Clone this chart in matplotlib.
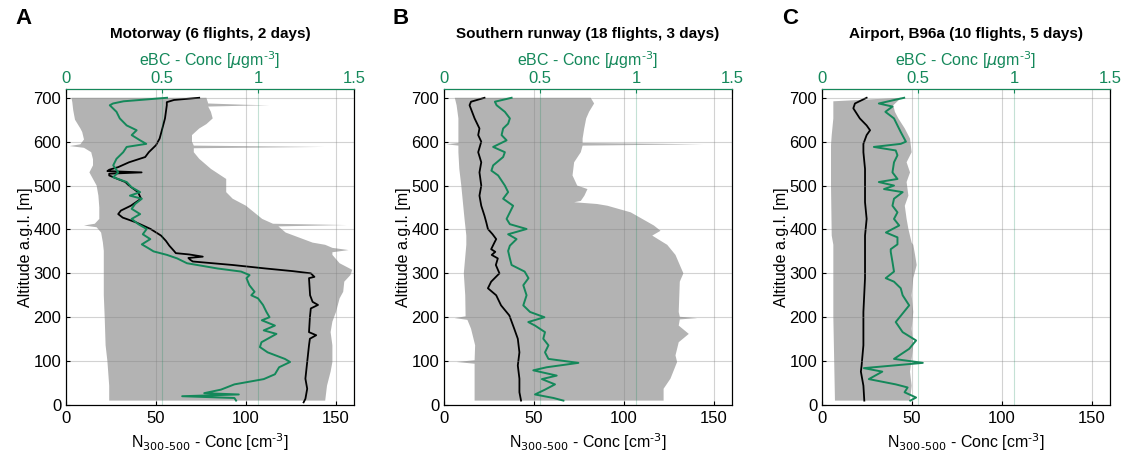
"""
Vertical profiles of N300-500 and eBC over three sites
"""
import numpy as np
import matplotlib.pyplot as plt

plt.rcParams['font.family'] = ['Liberation Sans', 'DejaVu Sans']

verde = '#14885a'
cinza = '#b3b3b3'

titulos = ['Motorway (6 flights, 2 days)', 'Southern runway (18 flights, 3 days)',
           'Airport, B96a (10 flights, 5 days)']
letras = ['A', 'B', 'C']

# --- Painel A ---
a_esq_alt = [700, 690, 672, 650, 630, 622, 605, 594, 590, 586, 576, 560, 546, 530, 515, 500, 477, 450,
             424, 413, 409, 405, 393, 370, 351, 300, 250, 200, 136, 100, 44, 10]
a_esq_n = [3, 3.5, 4, 5, 8, 9, 10, 8, 2, 10, 14, 15, 15, 13, 15, 17, 18, 18.5,
           18.5, 16, 10, 17, 19.5, 20.5, 21, 21, 21, 21.5, 22, 23, 24, 24]
a_dir_alt = [700, 687, 684, 683, 682, 680, 668, 653, 640, 630, 615, 600, 591, 588, 585, 576, 561, 538,
             515, 485, 470, 454, 424, 413, 410, 407, 393, 370, 365, 358, 353, 348, 342, 323, 308, 296,
             281, 258, 243, 212, 190, 166, 136, 98, 76, 44, 10]
a_dir_n = [78, 79, 100, 113, 100, 79, 80.5, 81.5, 78, 74, 70, 70, 71, 143.5, 71, 71, 74, 80.5,
           89, 89, 92.6, 100, 109, 115, 156, 118, 122, 137, 144, 148, 157, 148, 148, 152, 159, 158,
           154.6, 154, 152, 150, 148, 147, 148, 148, 147, 145, 144]
a_n_alt = [700, 695, 690, 683, 653, 622, 607, 592, 576, 565, 553, 542, 536, 533, 530, 527, 523, 515,
           508, 500, 485, 470, 454, 443, 435, 427, 416, 401, 386, 374, 363, 351, 346, 343, 338, 335,
           331, 327, 319, 311, 305, 300, 292, 289, 250, 235, 228, 220, 200, 166, 159, 151, 136, 98,
           60, 37, 14, 6]
a_n = [74, 60, 56, 56, 55, 53, 52, 50, 46, 44, 35, 29, 24, 23, 42, 24, 24, 28.7,
       33, 35, 40, 41.7, 36, 30.5, 29, 31.5, 39, 47, 52.8, 55.5, 57.4, 60, 61, 68.5, 76, 68,
       69, 70.4, 92.6, 111, 126, 136, 138, 135, 135.6, 137, 140, 136, 135.5, 135, 139, 135.5, 135, 134,
       133, 134, 133, 132]
a_bc_alt = [700, 692, 687, 683, 668, 653, 637, 626, 615, 603, 595, 588, 576, 561, 546, 530, 519, 508,
            496, 485, 477, 470, 458, 447, 435, 424, 412, 401, 389, 378, 366, 357, 350, 342, 334, 323,
            311, 304, 296, 289, 273, 258, 250, 243, 228, 212, 200, 193, 181, 170, 162, 143, 132, 120,
            105, 98, 86, 70, 59, 47, 35, 27, 24, 20, 16, 10]
a_bc = [0.526, 0.3, 0.245, 0.228, 0.263, 0.28, 0.316, 0.368, 0.342, 0.386, 0.418, 0.316, 0.298, 0.263,
        0.246, 0.272, 0.246, 0.316, 0.342, 0.386, 0.333, 0.395, 0.36, 0.342, 0.386, 0.342, 0.377, 0.42,
        0.4, 0.439, 0.395, 0.43, 0.456, 0.526, 0.579, 0.63, 0.79, 0.912, 0.956, 0.94, 0.955, 0.982,
        0.965, 1.0, 1.026, 1.044, 1.06, 1.02, 1.088, 1.03, 1.096, 1.018, 1.01, 1.05, 1.14, 1.167,
        1.11, 1.088, 1.03, 0.877, 0.807, 0.72, 0.9, 0.605, 0.877, 0.886]

# --- Painel B ---
b_esq_alt = [700, 683, 653, 607, 597, 594, 591, 576, 538, 500, 462, 424, 386, 365, 300, 250, 202, 198,
             194, 174, 136, 102, 98, 94, 76, 10]
b_esq_n = [6, 7, 8, 8, 8, 1.3, 8, 8, 8.5, 9.6, 10.5, 11.4, 12.4, 12.4, 11, 11.8, 12, 6,
           13, 15, 17.3, 17, 7, 17, 17, 17]
b_dir_alt = [700, 687, 668, 653, 630, 607, 597, 594, 591, 576, 553, 523, 500, 492, 477, 465, 462, 458,
             454, 439, 409, 397, 386, 370, 365, 342, 319, 300, 281, 212, 201, 198, 195, 181, 162, 143,
             113, 98, 60, 37, 10]
b_dir_n = [81.5, 83.4, 80.6, 79, 77.9, 77, 77, 144, 77, 76, 72.3, 71.4, 74, 79.7, 78, 76, 72.3, 85,
           90.8, 103.7, 116.6, 120.3, 115.7, 122, 124, 128.6, 131, 133, 131, 130.4, 131, 140.6, 131,
           130.4, 136, 130.4, 128.6, 129.5, 125.8, 122, 122]
b_n_alt = [700, 691, 683, 653, 630, 615, 600, 576, 553, 530, 500, 477, 454, 431, 416, 401, 389, 378,
           370, 355, 349, 342, 334, 319, 300, 281, 266, 250, 227, 204, 174, 151, 120, 90, 60, 29, 10]
b_n = [22.5, 15, 14.2, 17, 19.7, 19, 20.7, 19, 20.7, 19.7, 20.7, 19.7, 20.7, 22.5, 23.5, 24.4, 27, 29,
       28, 26.2, 28.5, 26.5, 29.9, 28.8, 30.8, 26.2, 24.4, 29, 31.7, 36.3, 39, 41, 41.9, 41, 41.9,
       41.9, 42.8]
b_bc_alt = [700, 691, 683, 668, 653, 641, 630, 615, 603, 588, 576, 565, 546, 534, 523, 500, 485, 470,
            454, 439, 424, 412, 401, 389, 378, 363, 351, 334, 319, 304, 289, 273, 250, 227, 212, 200,
            189, 181, 166, 151, 136, 120, 105, 96, 86, 79, 67, 59, 47, 35, 24, 16, 10]
b_bc = [0.352, 0.265, 0.274, 0.317, 0.343, 0.334, 0.308, 0.3, 0.326, 0.256, 0.317, 0.308, 0.256,
        0.247, 0.282, 0.317, 0.334, 0.308, 0.36, 0.343, 0.326, 0.343, 0.43, 0.334, 0.378, 0.343,
        0.334, 0.343, 0.352, 0.42, 0.44, 0.413, 0.43, 0.413, 0.448, 0.523, 0.439, 0.474, 0.526,
        0.517, 0.544, 0.526, 0.544, 0.7, 0.535, 0.465, 0.587, 0.51, 0.578, 0.526, 0.474, 0.57, 0.622]

# --- Painel C ---
c_esq_alt = [692, 653, 615, 592, 500, 386, 365, 200, 10]
c_esq_n = [6.3, 6.3, 5.4, 5, 5, 5.4, 6.3, 6.3, 7.2]
c_dir_alt = [700, 683, 668, 653, 630, 607, 576, 553, 530, 508, 477, 454, 424, 401, 370, 365, 342, 319,
             289, 250, 212, 174, 136, 105, 76, 44, 10]
c_dir_n = [44, 39.6, 40.5, 42.4, 46, 48.9, 49.8, 47, 48.9, 47, 48, 46, 47, 48, 49.8, 50.7, 51.7, 52.6,
           50.7, 49.8, 50.7, 49.8, 50.7, 49.8, 48.9, 49.8, 48.9]
c_n_alt = [700, 687, 676, 653, 637, 626, 615, 595, 576, 538, 500, 462, 424, 386, 365, 289, 212, 136,
           90, 76, 44, 10]
c_n = [24.8, 18.3, 17.4, 21, 24.8, 26.7, 24.8, 23, 23, 23.9, 23.9, 23.9, 24.8, 23.9, 23.9, 23.9, 23,
       23, 22, 21.6, 23, 23.5]
c_bc_alt = [700, 687, 680, 668, 653, 637, 622, 600, 595, 588, 580, 569, 553, 530, 515, 508, 500, 492,
            485, 470, 454, 439, 424, 409, 393, 382, 366, 355, 349, 326, 304, 289, 281, 266, 250, 227,
            189, 166, 147, 128, 105, 96, 84, 76, 59, 47, 40, 29, 17, 10]
c_bc = [0.428, 0.296, 0.367, 0.33, 0.375, 0.393, 0.41, 0.437, 0.41, 0.27, 0.384, 0.393, 0.375, 0.367,
        0.393, 0.296, 0.375, 0.323, 0.42, 0.375, 0.367, 0.393, 0.375, 0.402, 0.333, 0.393, 0.393,
        0.358, 0.358, 0.367, 0.375, 0.332, 0.375, 0.41, 0.42, 0.454, 0.384, 0.42, 0.49, 0.454, 0.375,
        0.525, 0.218, 0.314, 0.244, 0.384, 0.446, 0.43, 0.49, 0.46]

paineis = [
    (a_esq_alt, a_esq_n, a_dir_alt, a_dir_n, a_n_alt, a_n, a_bc_alt, a_bc),
    (b_esq_alt, b_esq_n, b_dir_alt, b_dir_n, b_n_alt, b_n, b_bc_alt, b_bc),
    (c_esq_alt, c_esq_n, c_dir_alt, c_dir_n, c_n_alt, c_n, c_bc_alt, c_bc),
]

fig = plt.figure(figsize=(11.27, 4.53), dpi=100)
esquerdas = [66 / 1127, 444 / 1127, 822 / 1127]
letra_x = [24 / 1127, 401 / 1127, 790 / 1127]

for i, (esq_alt, esq_n, dir_alt, dir_n, n_alt, n, bc_alt, bc) in enumerate(paineis):
    ax = fig.add_axes([esquerdas[i], 48 / 453, 288 / 1127, 316 / 453])

    # envelope cinza (min/max)
    ax.fill(esq_n + dir_n[::-1], esq_alt + dir_alt[::-1], color=cinza, lw=0)
    ax.plot(n, n_alt, color='black', lw=1.3)

    ax.set_xlim(0, 160)
    ax.set_ylim(0, 720)
    ax.set_xticks([0, 50, 100, 150])
    ax.set_yticks(range(0, 701, 100))
    ax.set_axisbelow(False)
    ax.grid(color='#808080', alpha=0.35, lw=0.8)
    ax.tick_params(direction='in', labelsize=12, length=3, top=False)
    ax.tick_params(axis='x', pad=4)
    ax.set_xlabel('N$_{300\\text{-}500}$ - Conc [cm$^{\\text{-}3}$]', fontsize=11.5, labelpad=4)
    ax.set_ylabel('Altitude a.g.l. [m]', fontsize=11.5, labelpad=0)

    ax2 = ax.twiny()
    ax2.plot(bc, bc_alt, color=verde, lw=1.4)
    ax2.set_xlim(0, 1.5)
    ax2.set_xticks([0, 0.5, 1, 1.5])
    ax2.set_xticklabels(['0', '0.5', '1', '1.5'])
    ax2.grid(axis='x', color=verde, alpha=0.25, lw=0.8)
    ax2.tick_params(axis='x', direction='in', colors=verde, labelsize=12, length=3, pad=2)
    ax2.spines['top'].set_color(verde)
    ax2.set_xlabel('eBC - Conc [$\\mu$gm$^{\\text{-}3}$]', color=verde, fontsize=11.5, labelpad=4)
    ax2.set_title(titulos[i], fontsize=11, fontweight='bold', pad=8)

    fig.text(letra_x[i], 1 - 19 / 453, letras[i], fontsize=16, fontweight='bold',
             ha='center', va='center')

plt.savefig('out.png', dpi=100)
